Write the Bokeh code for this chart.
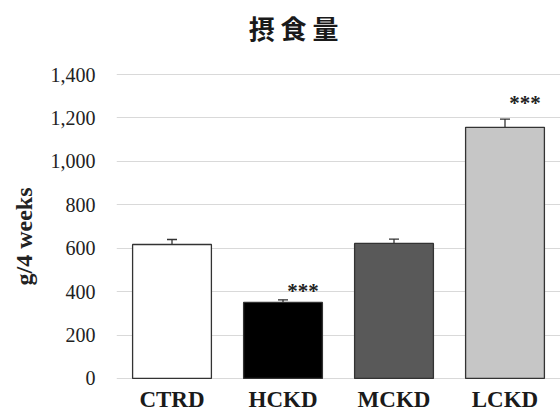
from bokeh.plotting import figure
from bokeh.models import (ColumnDataSource, Whisker, TeeHead, NumeralTickFormatter,
                          FixedTicker, Range1d, LabelSet, Label, Title)
from bokeh.embed import file_html
from bokeh.resources import INLINE

# Food intake over 4 weeks per diet group (mean ± SEM)
groups = ["CTRD", "HCKD", "MCKD", "LCKD"]
intake = [617, 350, 622, 1157]
sem = [23, 12, 20, 38]
significance = ["", "***", "", "***"]
y_ticks = [0, 200, 400, 600, 800, 1000, 1200, 1400]

fill_colors = ["#ffffff", "#000000", "#595959", "#c6c6c6"]

src = ColumnDataSource(dict(
    group=groups,
    intake=intake,
    base=[0] * len(groups),
    upper=[m + e for m, e in zip(intake, sem)],
    lower=[m - e for m, e in zip(intake, sem)],
    color=fill_colors,
    sig=significance,
    sig_off=[0, 9, 0, 16],
))

p = figure(
    x_range=groups, width=560, height=409,
    output_backend="svg", toolbar_location=None,
    min_border_left=116, min_border_right=0,
    min_border_top=0, min_border_bottom=0,
)
# the frame fills the canvas height: the band above 1,400 carries the heading,
# the band below zero the group names
p.y_range = Range1d(-143, 1741)
p.x_range.range_padding = 0
p.outline_line_color = None
p.background_fill_color = "white"

# heading
p.add_layout(Label(
    x=1.595, y=1617, text="摂 食 量",
    text_align="center", text_baseline="middle",
    text_font="Noto Sans CJK JP", text_font_size="26px",
    text_font_style="bold", text_color="#1a1a1a",
))

p.vbar(x="group", top="intake", width=0.71, source=src,
       fill_color="color", line_color="#333333", line_width=1.3)

p.add_layout(Whisker(
    base="group", upper="upper", lower="lower", source=src,
    line_color="#333333", line_width=1.3,
    upper_head=TeeHead(size=10, line_color="#333333", line_width=1.3),
    lower_head=TeeHead(size=10, line_color="#333333", line_width=1.3),
))

# significance markers
p.add_layout(LabelSet(
    x="group", y="upper", text="sig", source=src,
    x_offset=20, y_offset="sig_off",
    text_align="center", text_baseline="middle",
    text_font="Liberation Serif", text_font_size="21px",
    text_font_style="bold", text_color="#222222",
))

# group names under the bars
p.add_layout(LabelSet(
    x="group", y="base", text="group", source=src,
    y_offset=-29, text_align="center", text_baseline="alphabetic",
    text_font="Liberation Serif", text_font_size="23px",
    text_font_style="bold", text_color="#1a1a1a",
))

p.xgrid.grid_line_color = None
p.ygrid.grid_line_color = "#d9d9d9"
p.ygrid.grid_line_width = 1.2

p.yaxis.ticker = FixedTicker(ticks=y_ticks)
p.yaxis.formatter = NumeralTickFormatter(format="0,0")
p.yaxis.axis_line_color = None
p.yaxis.major_tick_line_color = None
p.yaxis.minor_tick_line_color = None
p.yaxis.major_label_standoff = 15
p.yaxis.major_label_text_font = "Liberation Serif"
p.yaxis.major_label_text_font_size = "20px"
p.yaxis.major_label_text_color = "#222222"

# y-axis caption, centred on the 0–1,400 span
p.add_layout(Title(
    text="g/4 weeks", align="left", offset=124,
    vertical_align="top", standoff=18,
    text_font="Liberation Serif", text_font_size="24px",
    text_font_style="bold", text_color="#222222",
), "left")

p.xaxis.visible = False

open("out.html", "w").write(file_html(p, INLINE))
